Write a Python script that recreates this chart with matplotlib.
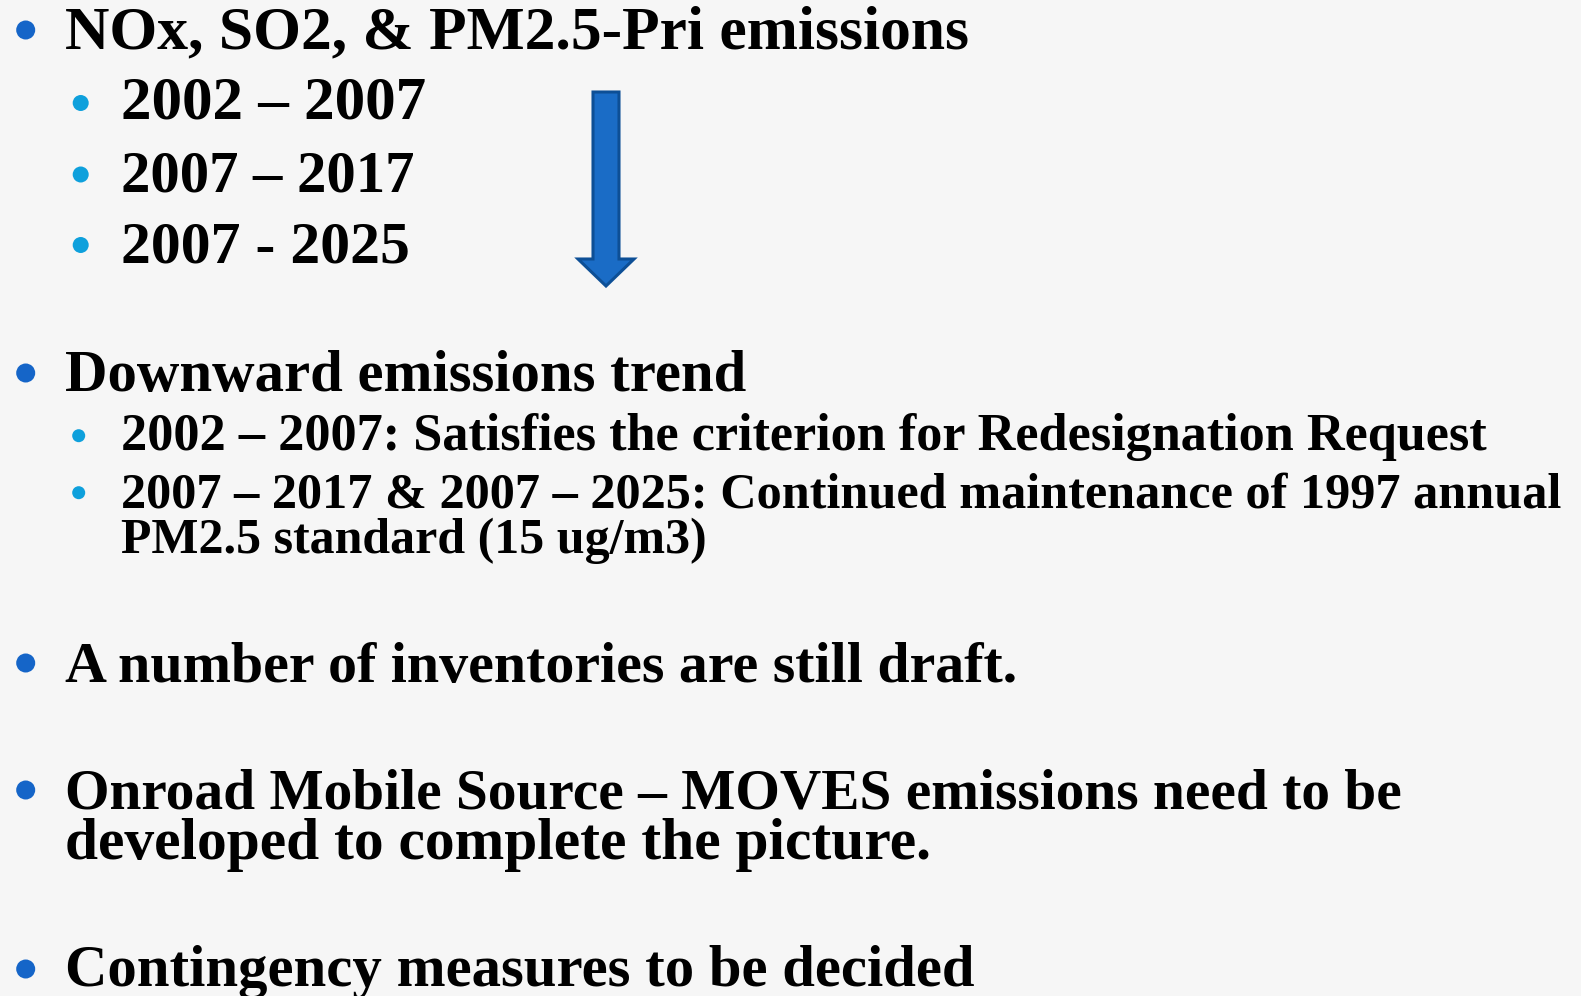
import matplotlib
matplotlib.use("Agg")
import matplotlib.pyplot as plt
from matplotlib.patches import Polygon, Circle

# ---- content ----
main_items = [
    "NOx, SO2, & PM2.5-Pri emissions",
    "Downward emissions trend",
    "A number of inventories are still draft.",
    "Onroad Mobile Source \u2013 MOVES emissions need to be",
    "developed to complete the picture.",
    "Contingency measures to be decided",
]
period_items = ["2002 \u2013 2007", "2007 \u2013 2017", "2007 - 2025"]
trend_items = [
    "2002 \u2013 2007: Satisfies the criterion for Redesignation Request",
    "2007 \u2013 2017 & 2007 \u2013 2025: Continued maintenance of 1997 annual",
    "PM2.5 standard (15 ug/m3)",
]

W, H = 1581, 996
S = W / 1568.0
fig = plt.figure(figsize=(W / 100, H / 100), dpi=100)
fig.patch.set_facecolor("#f6f6f6")
ax = fig.add_axes([0, 0, 1, 1])
ax.set_xlim(0, W)
ax.set_ylim(H, 0)
ax.axis("off")
ax.set_facecolor("#f6f6f6")

FONT = "Liberation Serif"
renderer = fig.canvas.get_renderer()


def fit_text(x, y, s, right, size0=36):
    x, y, right = x * S, y * S, right * S
    t = ax.text(x, y, s, fontsize=size0, fontfamily=FONT, fontweight="bold",
                color="black", va="baseline", ha="left")
    bb = t.get_window_extent(renderer=renderer)
    target = right - x
    t.set_fontsize(size0 * target / bb.width)
    return t


def bullet(x, y, r, color):
    # x, y, r in full-size pixel coords
    ax.add_patch(Circle((x, y), r, color=color, zorder=3, linewidth=0))


MAIN_C = "#1565c8"
SUB_C = "#0ea0dc"

# main bullets: (text, x_left, baseline, right, bullet_y[full px])
main_layout = [
    (main_items[0], 64, 48, 962, 30),
    (main_items[1], 64, 388, 740, 373),
    (main_items[2], 64, 676, 1010, 663),
    (main_items[3], 64, 802, 1390, 790),
    (main_items[4], 64, 852, 924, None),
    (main_items[5], 64, 978, 968, 969),
]
for s, x, y, r, by in main_layout:
    fit_text(x, y, s, r)
    if by is not None:
        bullet(25.7, by, 9.5, MAIN_C)

period_layout = [(120, 118, 422, 103), (120, 190, 410, 174.5), (120, 260, 406, 245)]
for s, (x, y, r, by) in zip(period_items, period_layout):
    fit_text(x, y, s, r)
    bullet(80.7, by, 8, SUB_C)

trend_layout = [(120, 446, 1476, 435.7), (120, 503, 1548, 492.7), (120, 548, 700, None)]
for s, (x, y, r, by) in zip(trend_items, trend_layout):
    fit_text(x, y, s, r)
    if by is not None:
        bullet(78.7, by, 6.5, SUB_C)

# down arrow
arrow = Polygon([(593, 92), (619, 92), (619, 259), (634, 259), (606, 286),
                 (578, 259), (593, 259)], closed=True,
                facecolor="#1a6cc6", edgecolor="#0d4f96", linewidth=2.2,
                joinstyle="miter", zorder=2)
ax.add_patch(arrow)

fig.savefig("out.png", dpi=100, facecolor=fig.get_facecolor())
